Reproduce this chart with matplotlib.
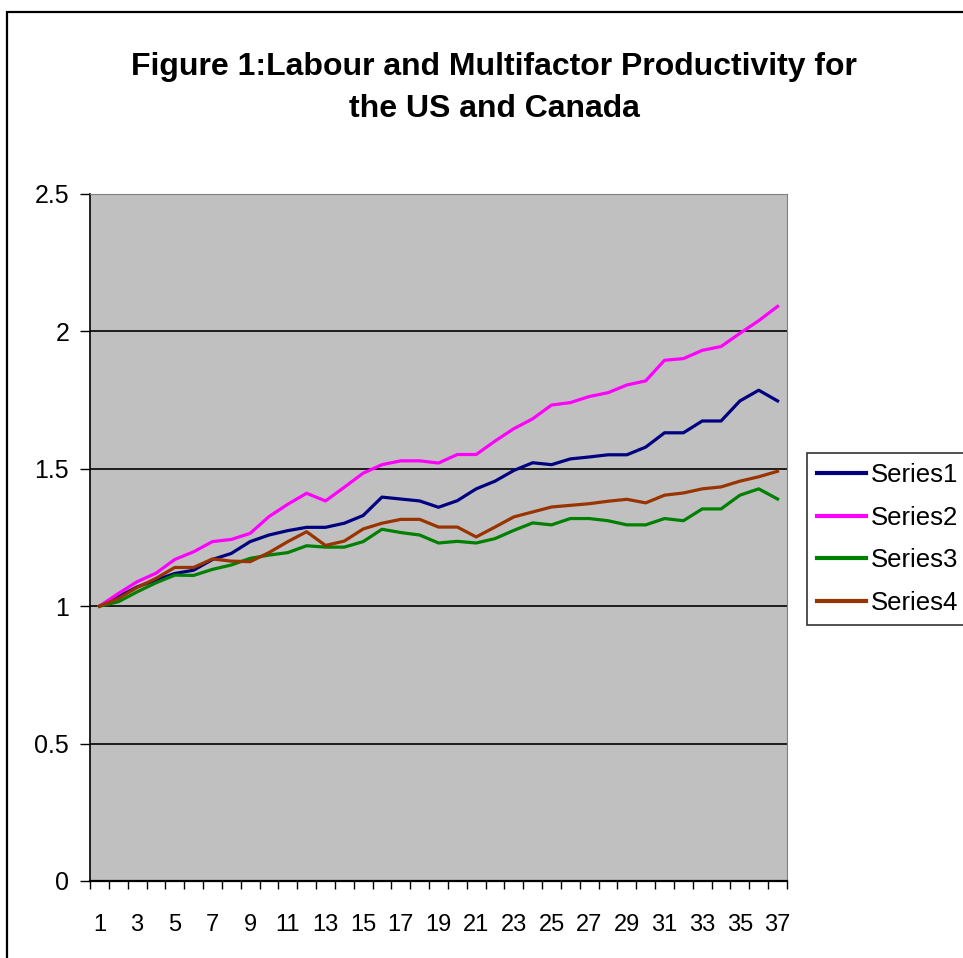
import numpy as np
import matplotlib.pyplot as plt
from matplotlib.patches import Rectangle
from matplotlib.ticker import FixedLocator

plt.rcParams['font.family'] = ['Liberation Sans', 'DejaVu Sans']

periods = np.arange(1, 38)

series1 = [1.000, 1.034, 1.070, 1.095, 1.119, 1.131, 1.170, 1.192, 1.235, 1.259,
           1.275, 1.287, 1.287, 1.302, 1.330, 1.397, 1.390, 1.383, 1.360, 1.384,
           1.427, 1.455, 1.494, 1.522, 1.515, 1.536, 1.543, 1.551, 1.551, 1.579,
           1.631, 1.631, 1.674, 1.674, 1.747, 1.786, 1.747]
series2 = [1.000, 1.046, 1.089, 1.120, 1.170, 1.198, 1.235, 1.243, 1.265, 1.326,
           1.371, 1.411, 1.383, 1.433, 1.484, 1.515, 1.529, 1.529, 1.521, 1.552,
           1.552, 1.601, 1.646, 1.682, 1.732, 1.741, 1.763, 1.777, 1.805, 1.820,
           1.895, 1.901, 1.931, 1.945, 1.993, 2.039, 2.091]
series3 = [1.000, 1.016, 1.052, 1.085, 1.113, 1.112, 1.134, 1.150, 1.174, 1.186,
           1.195, 1.220, 1.215, 1.215, 1.235, 1.280, 1.268, 1.259, 1.230, 1.236,
           1.230, 1.246, 1.276, 1.303, 1.296, 1.319, 1.319, 1.311, 1.296, 1.296,
           1.319, 1.311, 1.354, 1.354, 1.404, 1.427, 1.390]
series4 = [1.000, 1.028, 1.068, 1.101, 1.141, 1.141, 1.172, 1.164, 1.162, 1.195,
           1.235, 1.271, 1.221, 1.237, 1.281, 1.302, 1.316, 1.316, 1.288, 1.288,
           1.252, 1.288, 1.325, 1.343, 1.361, 1.367, 1.373, 1.382, 1.389, 1.376,
           1.404, 1.412, 1.427, 1.434, 1.455, 1.471, 1.491]

names = ['Series1', 'Series2', 'Series3', 'Series4']
colors = ['#000080', '#FF00FF', '#008000', '#993300']

fig = plt.figure(figsize=(9.63, 9.58), dpi=100)

# outer chart frame (runs off the right and bottom edges)
fig.patches.append(Rectangle((7 / 963, -0.1), 1.2, 1.0875, transform=fig.transFigure,
                             fill=False, edgecolor='black', linewidth=1.6))

ax = fig.add_axes([90 / 963, 1 - 881 / 958, 697 / 963, 687 / 958])
ax.set_facecolor('#C0C0C0')

for ys, name, c in zip([series1, series2, series3, series4], names, colors):
    ax.plot(periods, ys, color=c, linewidth=2.3, label=name)

ax.set_xlim(0.5, 37.5)
ax.set_ylim(0, 2.5)

ax.set_yticks([0, 0.5, 1, 1.5, 2, 2.5])
ax.set_yticklabels(['0', '0.5', '1', '1.5', '2', '2.5'])
for y in [0.5, 1, 1.5, 2]:
    ax.axhline(y, color='black', linewidth=1.2, zorder=1)

ax.set_xticks(periods[::2])
ax.set_xticklabels([str(p) for p in periods[::2]])
ax.xaxis.set_minor_locator(FixedLocator(np.arange(0.5, 38, 1)))
ax.tick_params(axis='x', which='major', length=0, pad=24, labelsize=17)
ax.tick_params(axis='x', which='minor', length=6, width=1, direction='out')
ax.tick_params(axis='y', length=7, width=1, pad=8, labelsize=18)

ax.spines['left'].set_linewidth(1.2)
ax.spines['bottom'].set_linewidth(1.6)
ax.spines['top'].set_color('#808080')
ax.spines['right'].set_color('#808080')

fig.text(494 / 963, 1 - 88 / 958, 'Figure 1:Labour and Multifactor Productivity for\nthe US and Canada',
         ha='center', va='center', fontsize=23, fontweight='bold', linespacing=1.5)

leg = fig.legend(loc='upper left', bbox_to_anchor=(807 / 963, 1 - 453 / 958),
                 fontsize=18.5, frameon=True, fancybox=False, handlelength=1.9,
                 handletextpad=0.2, borderpad=0.4, labelspacing=0.72, borderaxespad=0)
leg.get_frame().set_edgecolor('black')
leg.get_frame().set_linewidth(1.2)
for line in leg.get_lines():
    line.set_linewidth(3)

fig.savefig('out.png', dpi=100)
